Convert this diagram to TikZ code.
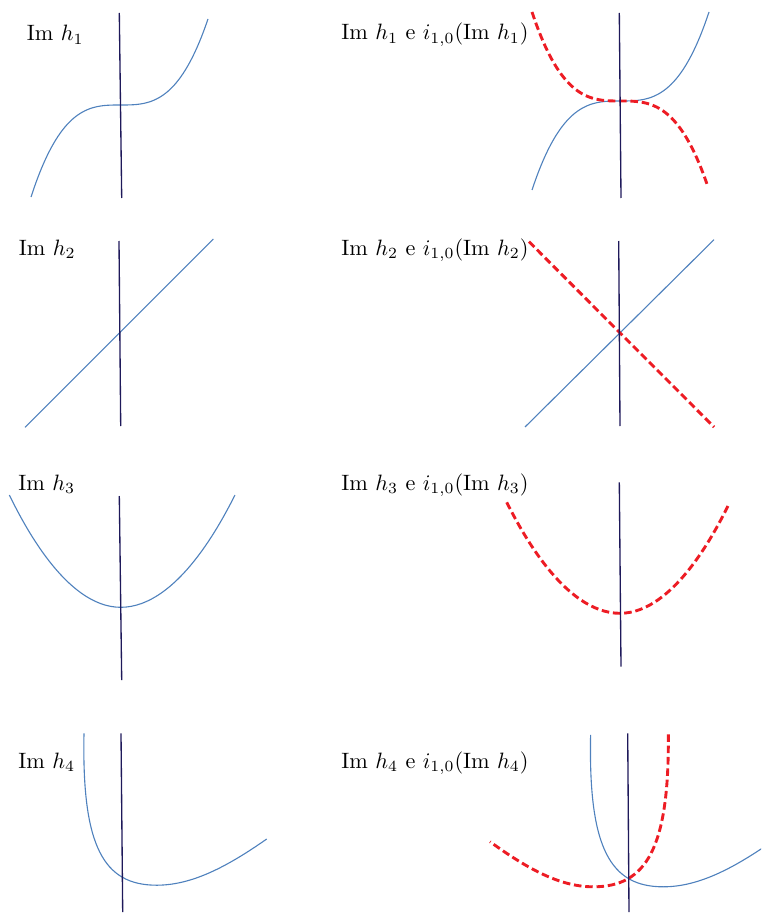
\documentclass[tikz,border=0pt]{standalone}
\usepackage{amsmath}
\usepackage{amssymb}
\usepackage{tikz}
\usetikzlibrary{positioning}
\usetikzlibrary{calc}

\definecolor{curveblue}{RGB}{79,129,189}
\definecolor{axisnavy}{RGB}{30,25,90}
\definecolor{inversered}{RGB}{237,28,36}

\tikzset{
    axisline/.style={draw=axisnavy, line width=0.6pt},
    graphline/.style={draw=curveblue, line width=0.5pt},
    inverseline/.style={draw=inversered, line width=1.3pt, dash pattern=on 3.4pt off 1.7pt},
    imlabel/.style={anchor=base west, inner sep=0pt},
}

\begin{document}
\begin{tikzpicture}[x=0.45pt, y=-0.45pt]
    \useasboundingbox (0,0) rectangle (761,913);
    \clip (0,0) rectangle (761,913);

        \node[imlabel] (l1) at (26.5,41) {$\mathrm{Im}\ h_1$};
        \node[imlabel] (r1) at (341,40) {$\mathrm{Im}\ h_1$ e $i_{1,0}(\mathrm{Im}\ h_1)$};
        \node[imlabel] (l2) at (18.5,255) {$\mathrm{Im}\ h_2$};
        \node[imlabel] (r2) at (341,255) {$\mathrm{Im}\ h_2$ e $i_{1,0}(\mathrm{Im}\ h_2)$};
        \node[imlabel] (l3) at (18,490) {$\mathrm{Im}\ h_3$};
        \node[imlabel] (r3) at (341,490) {$\mathrm{Im}\ h_3$ e $i_{1,0}(\mathrm{Im}\ h_3)$};
        \node[imlabel] (l4) at (18,768) {$\mathrm{Im}\ h_4$};
        \node[imlabel] (r4) at (341,768) {$\mathrm{Im}\ h_4$ e $i_{1,0}(\mathrm{Im}\ h_4)$};

        \coordinate (a1t) at (119.3,13);   \coordinate (a1b) at (121.7,198);
        \coordinate (b1t) at (619.3,13);   \coordinate (b1b) at (621,198);
        \coordinate (a2t) at (119,241);    \coordinate (a2b) at (120.7,426);
        \coordinate (b2t) at (618.7,241);  \coordinate (b2b) at (620,426);
        \coordinate (a3t) at (119.3,496);  \coordinate (a3b) at (121.7,680);
        \coordinate (b3t) at (619.3,482.3); \coordinate (b3b) at (621,666.7);
        \coordinate (a4t) at (121,733.3);  \coordinate (a4b) at (122.7,912);
        \coordinate (b4t) at (627.7,733.3); \coordinate (b4b) at (629,912);

        \coordinate (g2s) at (25,427.3);   \coordinate (g2e) at (213.3,239);
        \coordinate (h2s) at (525,427);    \coordinate (h2e) at (714,239.7);
        \coordinate (k2s) at (529,241.7);  \coordinate (k2e) at (714,427);

        \coordinate (g3s) at (9.3,495);    \coordinate (g3v) at (120.7,607.3);  \coordinate (g3e) at (235,495);
        \coordinate (k3s) at (506.7,502.3); \coordinate (k3v) at (620,613.3);   \coordinate (k3e) at (729.3,503.3);

        % Im h_1
        \draw[graphline] plot[domain=-89.5:87.5, samples=80] ({120.5+\x},{105-89*(\x/88.5)*(\x/88.5)*(\x/88.5)});
        \draw[graphline] plot[domain=-88.5:88.5, samples=80] ({620.5+\x},{101-89*(\x/88.5)*(\x/88.5)*(\x/88.5)});
        \draw[inverseline] plot[domain=-88.5:87, samples=80] ({620.5+\x},{101+89*(\x/88.5)*(\x/88.5)*(\x/88.5)});

        % Im h_2
        \draw[graphline] (g2s) -- (g2e);
        \draw[graphline] (h2s) -- (h2e);
        \draw[inverseline] (k2s) -- (k2e);

        % Im h_3
        \draw[graphline] (g3s) parabola bend (g3v) (g3e);
        \draw[inverseline] (k3s) parabola bend (k3v) (k3e);

        % Im h_4
        \begin{scope}[shift={(121.7,876.7)}]
            \draw[graphline] (-37.7,-143.4) .. controls (-40,-30) and (-18,8.5) .. (35,8.5)
                .. controls (70,8.5) and (105,-9.7) .. (145,-37.7);
        \end{scope}
        \begin{scope}[shift={(628.3,878.3)}]
            \draw[graphline] (-37.7,-143.4) .. controls (-40,-30) and (-18,8.5) .. (35,8.5)
                .. controls (70,8.5) and (105,-9.7) .. (145,-37.7);
        \end{scope}
        \begin{scope}[shift={(628.3,878.3)}, xscale=-1]
            \draw[inverseline] (-40,-144) .. controls (-41,-30) and (-18,8.5) .. (35,8.5)
                .. controls (68,8.5) and (100,-9) .. (138.3,-36.6);
        \end{scope}

        \foreach \p in {a1,b1,a2,b2,a3,b3,a4,b4}
            \draw[axisline] (\p t) -- (\p b);

\end{tikzpicture}
\end{document}
